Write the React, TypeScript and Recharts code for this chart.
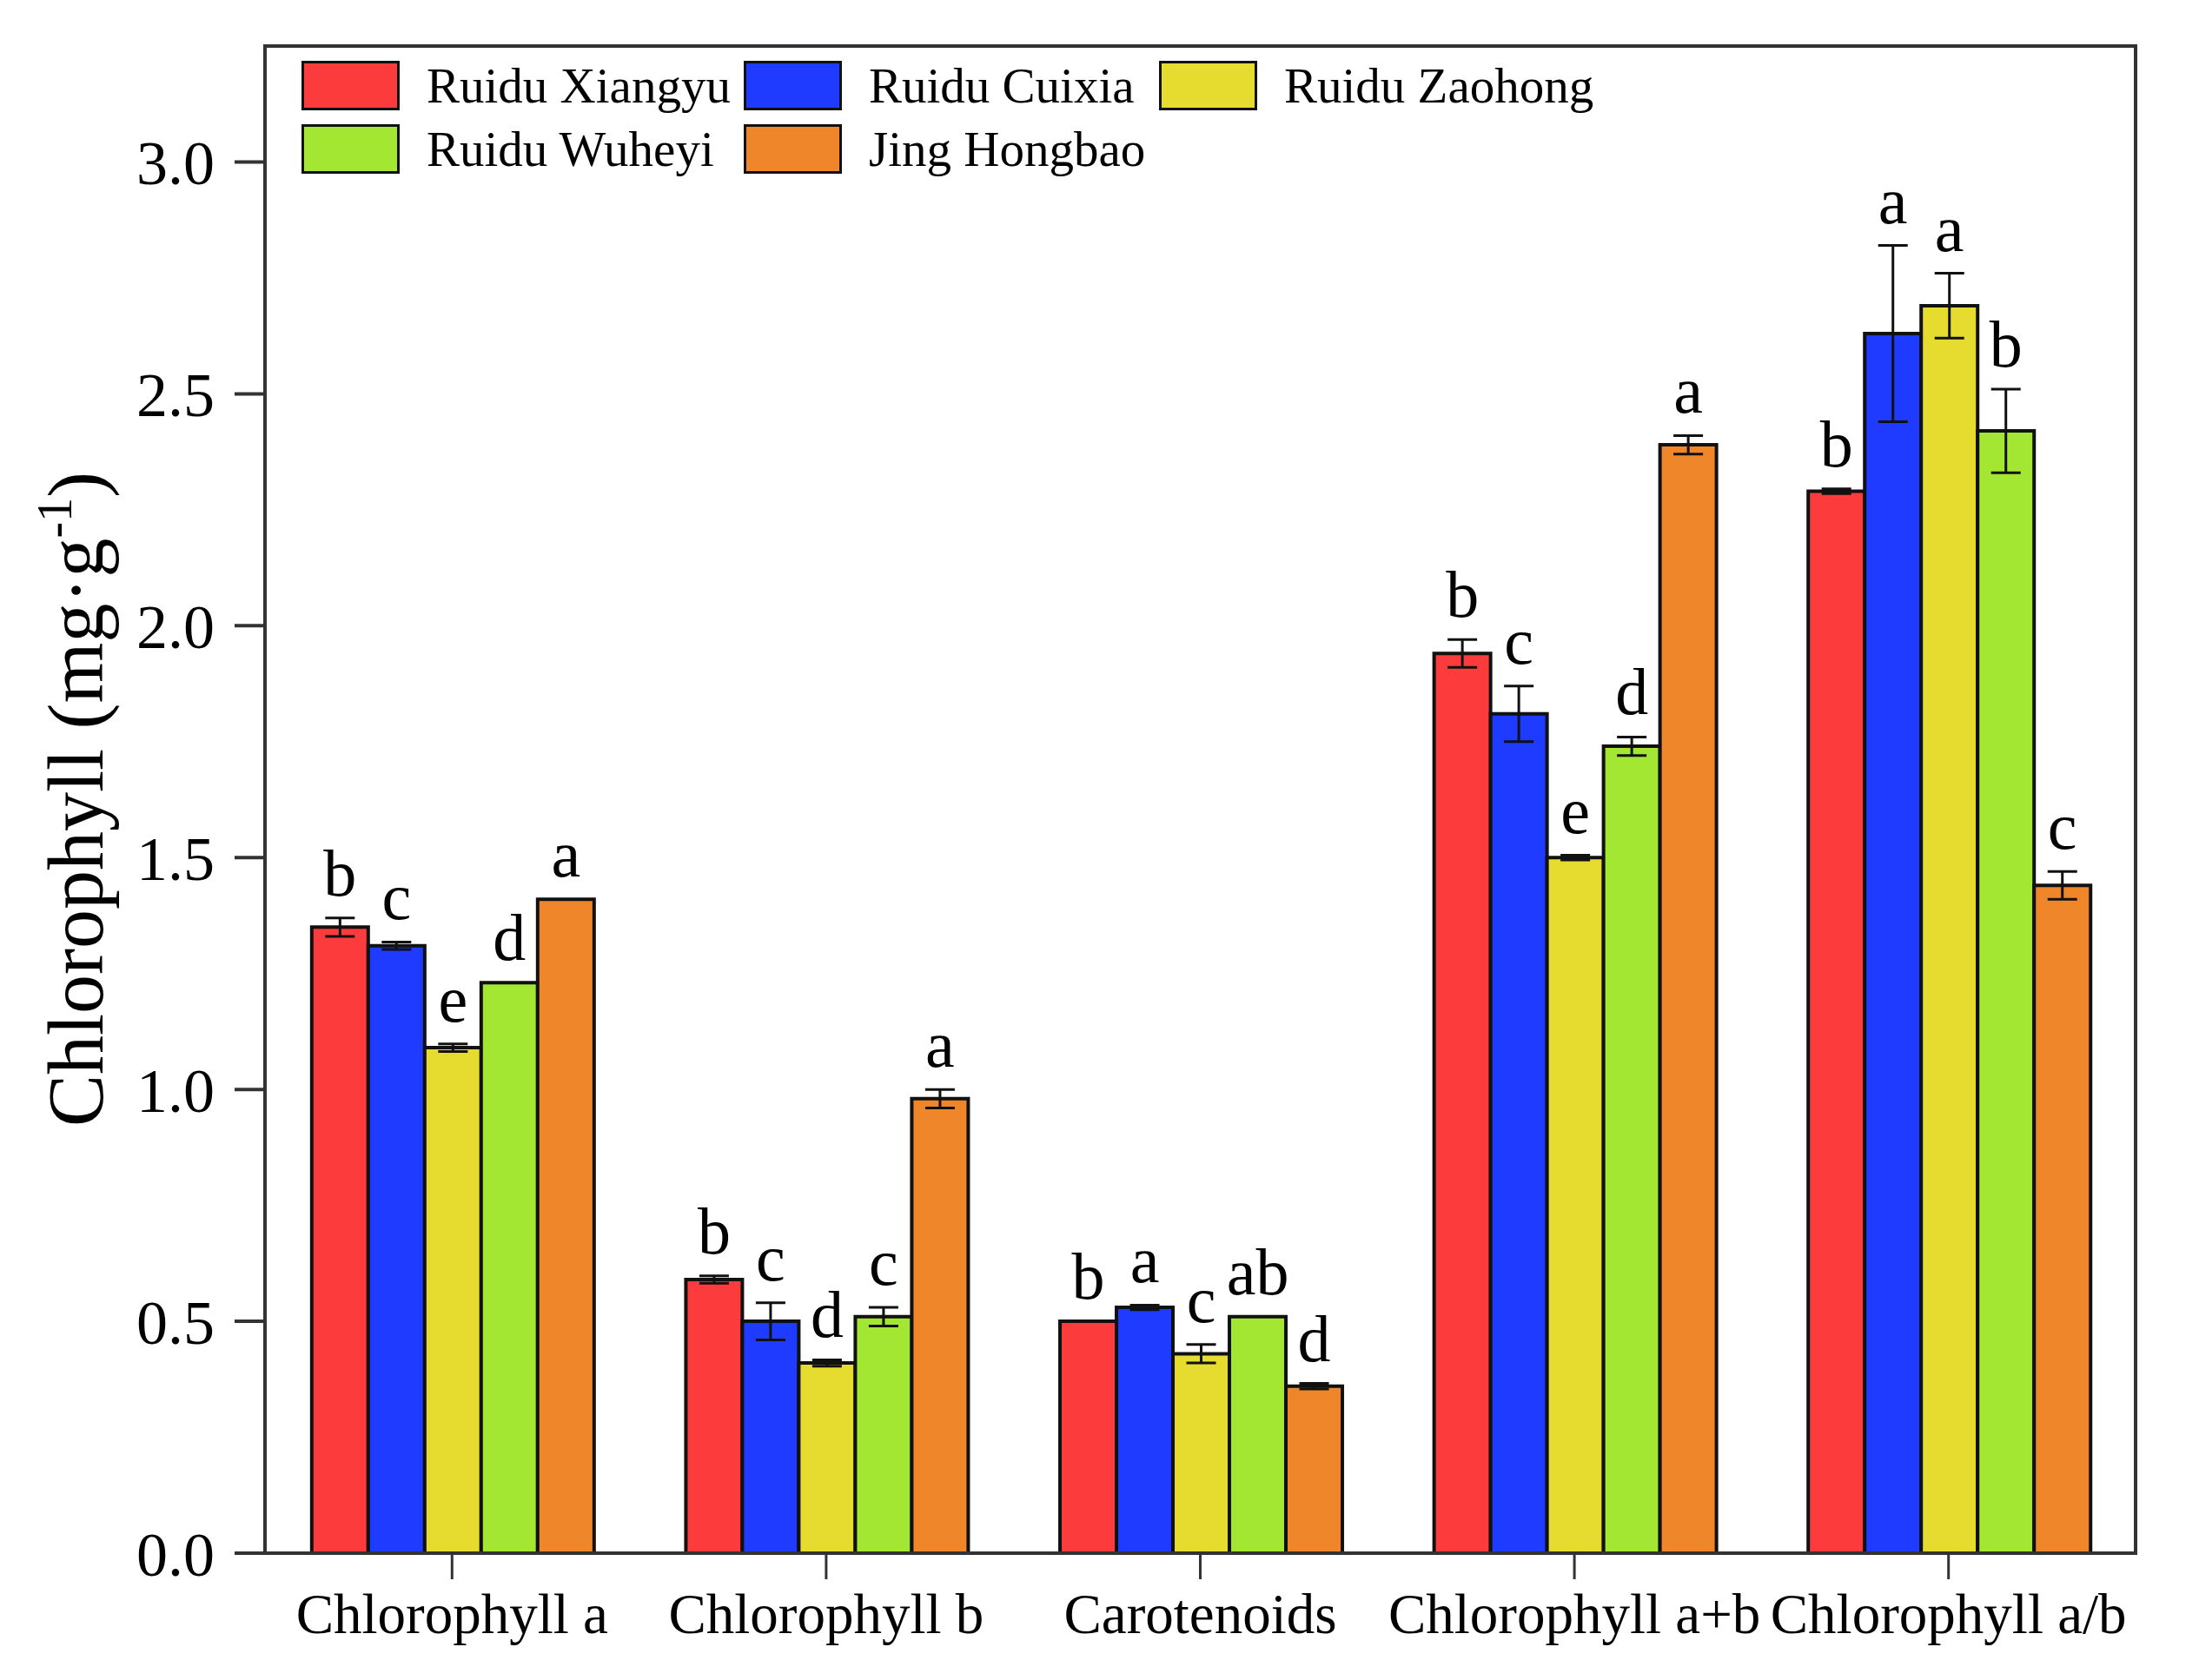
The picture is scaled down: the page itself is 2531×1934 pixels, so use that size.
import React from 'react';
import { BarChart, Bar, XAxis, YAxis, ErrorBar, LabelList, Legend, ReferenceArea } from 'recharts';

const categories = ['Chlorophyll a', 'Chlorophyll b', 'Carotenoids', 'Chlorophyll a+b', 'Chlorophyll a/b'];
const cultivars = ['Ruidu Xiangyu', 'Ruidu Cuixia', 'Ruidu Zaohong', 'Ruidu Wuheyi', 'Jing Hongbao'];
const colors = ['#FC3C3C', '#1E3BFF', '#E6DC2F', '#A3E733', '#F0862A'];

const xiangyu = [1.35, 0.59, 0.5, 1.94, 2.29];
const xiangyuErr = [0.02, 0.008, 0, 0.03, 0.005];
const xiangyuLetters = ['b', 'b', 'b', 'b', 'b'];

const cuixia = [1.31, 0.5, 0.53, 1.81, 2.63];
const cuixiaErr = [0.008, 0.04, 0.005, 0.06, 0.19];
const cuixiaLetters = ['c', 'c', 'a', 'c', 'a'];

const zaohong = [1.09, 0.41, 0.43, 1.5, 2.69];
const zaohongErr = [0.008, 0.007, 0.02, 0.005, 0.07];
const zaohongLetters = ['e', 'd', 'c', 'e', 'a'];

const wuheyi = [1.23, 0.51, 0.51, 1.74, 2.42];
const wuheyiErr = [0, 0.02, 0, 0.02, 0.09];
const wuheyiLetters = ['d', 'c', 'ab', 'd', 'b'];

const hongbao = [1.41, 0.98, 0.36, 2.39, 1.44];
const hongbaoErr = [0, 0.02, 0.006, 0.02, 0.03];
const hongbaoLetters = ['a', 'a', 'd', 'a', 'c'];

const yTicks = [0, 0.5, 1.0, 1.5, 2.0, 2.5, 3.0];

const seriesValues = [xiangyu, cuixia, zaohong, wuheyi, hongbao];
const seriesErrors = [xiangyuErr, cuixiaErr, zaohongErr, wuheyiErr, hongbaoErr];
const seriesLetters = [xiangyuLetters, cuixiaLetters, zaohongLetters, wuheyiLetters, hongbaoLetters];

const data = categories.map((cat, i) => {
  const row: any = { cat };
  seriesValues.forEach((vals, k) => {
    row[`s${k}`] = vals[i];
    row[`e${k}`] = seriesErrors[k][i];
    row[`l${k}`] = seriesLetters[k][i];
  });
  return row;
});

const FONT = '"Liberation Serif", "Times New Roman", serif';

const makeLetter = (k: number) => (p: any) => {
  const vb = p.viewBox || p;
  const x = Number(vb.x);
  const y = Number(vb.y);
  const w = Number(vb.width);
  const h = Number(vb.height);
  const i = p.index;
  const val = seriesValues[k][i];
  const err = seriesErrors[k][i];
  const pxPerUnit = val ? Math.abs(h) / val : 0;
  const top = Math.min(y, y + h) - err * pxPerUnit;
  return (
    <text
      x={x + w / 2}
      y={top - 26}
      textAnchor="middle"
      fontFamily={FONT}
      fontSize={76}
      fill="#000"
    >
      {p.value}
    </text>
  );
};

const legendPos = [
  [347, 70],
  [856, 70],
  [1334, 70],
  [347, 143],
  [856, 143],
];

const renderLegend = () => (
  <div style={{ position: 'relative', width: 2531, height: 230 }}>
    {cultivars.map((name, i) => (
      <div
        key={name}
        style={{
          position: 'absolute',
          left: legendPos[i][0],
          top: legendPos[i][1],
          height: 57,
          display: 'flex',
          alignItems: 'center',
        }}
      >
        <div
          style={{
            width: 107,
            height: 51,
            background: colors[i],
            border: '3px solid #111',
            marginRight: 31,
          }}
        />
        <span style={{ fontFamily: FONT, fontSize: 57, color: '#000', whiteSpace: 'nowrap', lineHeight: '57px' }}>
          {name}
        </span>
      </div>
    ))}
  </div>
);

const YLabel = () => {
  const cx = 118;
  const cy = 920;
  return (
    <text
      x={cx}
      y={cy}
      transform={`rotate(-90 ${cx} ${cy})`}
      textAnchor="middle"
      fontFamily={FONT}
      fontSize={90}
      fill="#000"
    >
      Chlorophyll (mg·g
      <tspan dy={-36} fontSize={56}>
        -1
      </tspan>
      <tspan dy={36}>)</tspan>
    </text>
  );
};

export default function App() {
  return (
    <div style={{ position: 'absolute', left: 0, top: 0, width: 2531, height: 1934, background: '#fff' }}>
      <BarChart
        width={2531}
        height={1934}
        data={data}
        margin={{ top: 53, right: 73, left: 155, bottom: 16 }}
        barCategoryGap="12.5%"
        barGap={0}
      >
        <XAxis
          dataKey="cat"
          xAxisId="main"
          height={130}
          tickSize={30}
          tickMargin={16}
          axisLine={{ stroke: '#333', strokeWidth: 4 }}
          tickLine={{ stroke: '#333', strokeWidth: 3 }}
          tick={{ fontFamily: FONT, fontSize: 65, fill: '#000' }}
          interval={0}
        />
        <YAxis
          yAxisId="main"
          domain={[0, 3.25]}
          ticks={yTicks}
          width={150}
          tickSize={35}
          tickMargin={23}
          allowDataOverflow
          tickFormatter={(v: number) => v.toFixed(1)}
          axisLine={{ stroke: '#333', strokeWidth: 4 }}
          tickLine={{ stroke: '#333', strokeWidth: 4 }}
          tick={{ fontFamily: FONT, fontSize: 72, fill: '#000' }}
          label={<YLabel />}
        />
        <ReferenceArea
          xAxisId="main"
          yAxisId="main"
          y1={0}
          y2={3.25}
          fill="none"
          stroke="#333"
          strokeWidth={4}
          ifOverflow="visible"
        />
        <Legend
          layout="vertical"
          align="center"
          verticalAlign="middle"
          content={renderLegend}
          wrapperStyle={{ left: 0, top: 0, width: 2531, height: 230 }}
        />
        {cultivars.map((name, k) => (
          <Bar
            key={name}
            name={name}
            dataKey={`s${k}`}
            xAxisId="main"
            yAxisId="main"
            fill={colors[k]}
            stroke="#111"
            strokeWidth={4}
            isAnimationActive={false}
          >
            <ErrorBar dataKey={`e${k}`} width={17} stroke="#111" strokeWidth={3} direction="y" isAnimationActive={false} />
            <LabelList dataKey={`l${k}`} content={makeLetter(k)} />
          </Bar>
        ))}
      </BarChart>
    </div>
  );
}
